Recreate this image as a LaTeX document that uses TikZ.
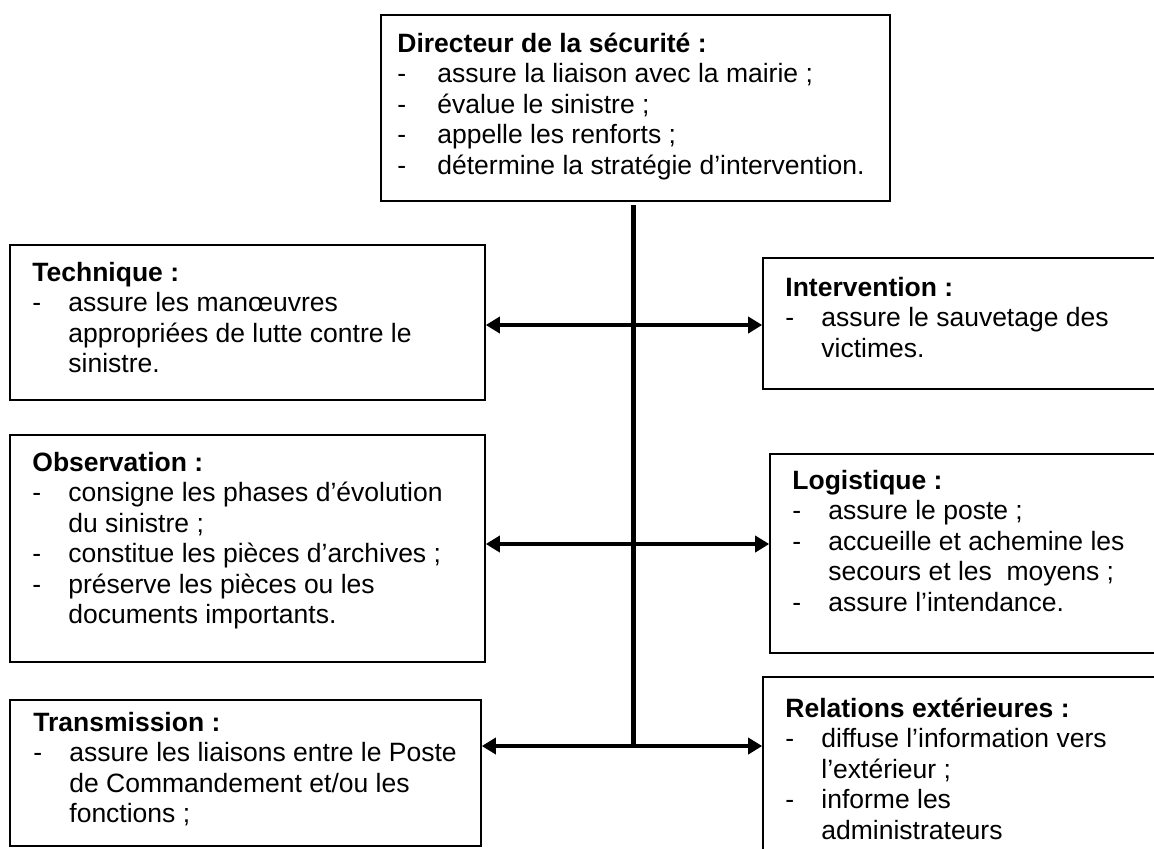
\documentclass[tikz,border=0pt]{standalone}
\usepackage{fontspec}
\setmainfont{Liberation Sans}
\usetikzlibrary{arrows.meta,fit}
\newcommand{\dashitem}[2][18pt]{\makebox[#1][l]{-}#2}
\newcommand{\contline}[2][18pt]{\hspace*{#1}#2}
\newcommand{\boxtitle}[1]{\rule{0pt}{10.5pt}\textbf{#1}}
\begin{document}
\begin{tikzpicture}[x=0.5pt,y=-0.5pt,
  boxsty/.style={draw=black,line width=0.8pt,inner sep=0pt},
  txt/.style={anchor=north west,align=left,inner sep=0pt,font=\fontsize{13.25pt}{15.25pt}\selectfont},
  conn/.style={line width=2.5pt},
  arr/.style={line width=2.35pt,{Triangle[length=7pt,width=8pt]}-{Triangle[length=7pt,width=8pt]}}]
\fill[white] (0,0) rectangle (1154,848);
\useasboundingbox (0,0) rectangle (1154,848);
% boxes
\node[boxsty,fit={(381,15) (890,201)}] (dir) {};
\node[boxsty,fit={(10,245) (485,400)}] (tech) {};
\node[boxsty,fit={(10,435) (485,662)}] (obs) {};
\node[boxsty,fit={(10,700) (481,846)}] (trans) {};
\node[boxsty,fit={(763,258) (1170,389)}] (int) {};
\node[boxsty,fit={(770,454) (1170,653)}] (log) {};
\node[boxsty,fit={(763,677) (1170,870)}] (rel) {};
% texts
\node[txt] (dirt) at (397,31) {\boxtitle{Directeur de la sécurité :}\\
 \dashitem[20pt]{assure la liaison avec la mairie ;}\\
 \dashitem[20pt]{évalue le sinistre ;}\\
 \dashitem[20pt]{appelle les renforts ;}\\
 \dashitem[20pt]{détermine la stratégie d’intervention.}};
\node[txt] (techt) at (32,260) {\boxtitle{Technique :}\\
 \dashitem{assure les manœuvres}\\
 \contline{appropriées de lutte contre le}\\
 \contline{sinistre.}};
\node[txt] (obst) at (32,450) {\boxtitle{Observation :}\\
 \dashitem{consigne les phases d’évolution}\\
 \contline{du sinistre ;}\\
 \dashitem{constitue les pièces d’archives ;}\\
 \dashitem{préserve les pièces ou les}\\
 \contline{documents importants.}};
\node[txt] (transt) at (33,710) {\boxtitle{Transmission :}\\
 \dashitem{assure les liaisons entre le Poste}\\
 \contline{de Commandement et/ou les}\\
 \contline{fonctions ;}};
\node[txt] (intt) at (785,275) {\boxtitle{Intervention :}\\
 \dashitem{assure le sauvetage des}\\
 \contline{victimes.}};
\node[txt] (logt) at (792,468) {\boxtitle{Logistique :}\\
 \dashitem{assure le poste ;}\\
 \dashitem{accueille et achemine les}\\
 \contline{secours et les\ \ moyens ;}\\
 \dashitem{assure l’intendance.}};
\node[txt] (relt) at (785,696) {\boxtitle{Relations extérieures :}\\
 \dashitem{diffuse l’information vers}\\
 \contline{l’extérieur ;}\\
 \dashitem{informe les}\\
 \contline{administrateurs}};
% connectors
\coordinate (j0) at (633,205);
\coordinate (j1) at (633,325);
\coordinate (j2) at (633,544);
\coordinate (j3) at (633,746);
\draw[conn] (j0) -- (j3);
\draw[arr] (tech.east |- j1) -- (int.west |- j1);
\draw[arr] (obs.east |- j2) -- (log.west |- j2);
\draw[arr] (trans.east |- j3) -- (rel.west |- j3);
\end{tikzpicture}
\end{document}
